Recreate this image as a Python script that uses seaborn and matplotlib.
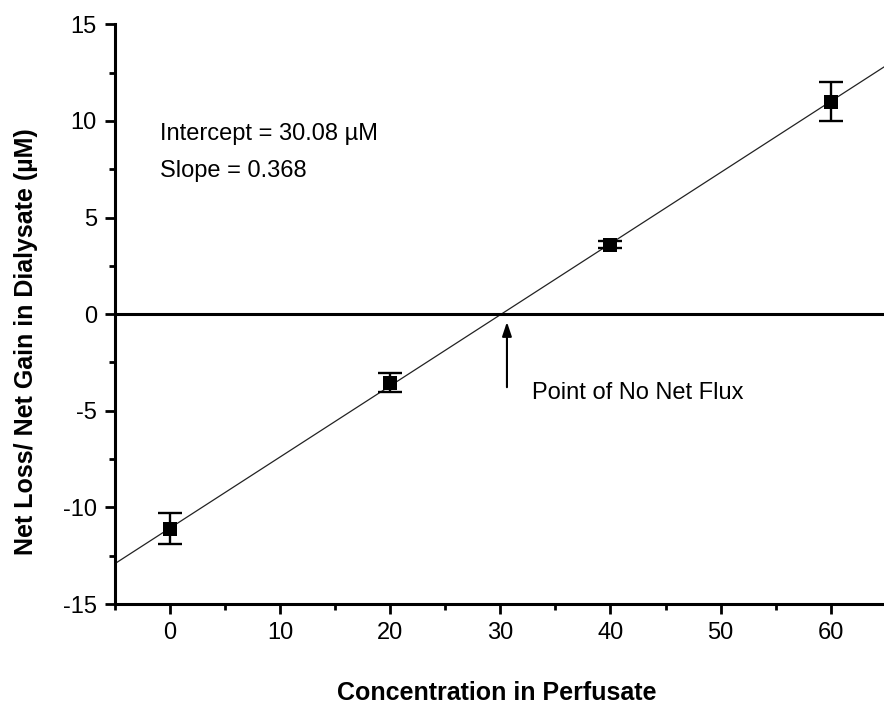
import numpy as np
import pandas as pd
import matplotlib
matplotlib.use("Agg")
import matplotlib.pyplot as plt
from matplotlib.ticker import MultipleLocator
import seaborn as sns

# Measured net change in dialysate for each perfusate concentration
concentration = [0, 20, 40, 60]
net_change = [-11.1, -3.55, 3.6, 11.0]
error = [0.8, 0.5, 0.2, 1.0]

# Linear regression result
slope = 0.368
x_intercept = 30.08

sns.set_theme(style="ticks")
plt.rcParams["font.family"] = ["Liberation Sans", "DejaVu Sans"]
plt.rcParams["axes.unicode_minus"] = False
plt.rcParams["text.color"] = "black"
plt.rcParams["axes.labelcolor"] = "black"

fig = plt.figure(figsize=(8.84, 7.14), dpi=100)
ax = fig.add_axes([0.130, 0.154, 0.872, 0.812])

df = pd.DataFrame({"conc": concentration, "change": net_change, "err": error})

# Fitted line across the whole x range
fit_x = np.array([-5, 65])
fit_df = pd.DataFrame({"x": fit_x, "y": slope * (fit_x - x_intercept)})
sns.lineplot(data=fit_df, x="x", y="y", ax=ax, color="#222222", lw=0.9, zorder=2)

# Zero reference line
ax.axhline(0, color="black", lw=2.2, zorder=2)

ax.errorbar(df["conc"], df["change"], yerr=df["err"], fmt="none",
            ecolor="black", elinewidth=1.7, capsize=8.5, capthick=1.7, zorder=3)
sns.scatterplot(data=df, x="conc", y="change", ax=ax, marker="s", s=110,
                color="black", edgecolor="black", linewidth=0, zorder=4)

ax.annotate("", xy=(30.6, -0.4), xytext=(30.6, -3.78),
            arrowprops=dict(arrowstyle="-|>,head_length=0.6,head_width=0.2",
                            color="black", lw=1.5, mutation_scale=14,
                            shrinkA=0, shrinkB=0))
ax.text(32.9, -4.1, "Point of No Net Flux", fontsize=17, va="center", ha="left")
ax.text(-0.9, 9.3, "Intercept = 30.08 \u00b5M", fontsize=17, va="center", ha="left")
ax.text(-0.9, 7.4, "Slope = 0.368", fontsize=17, va="center", ha="left")

ax.set_xlim(-5, 65)
ax.set_ylim(-15, 15)
ax.xaxis.set_major_locator(MultipleLocator(10))
ax.xaxis.set_minor_locator(MultipleLocator(5))
ax.yaxis.set_major_locator(MultipleLocator(5))
ax.yaxis.set_minor_locator(MultipleLocator(2.5))
ax.set_xticks(range(0, 61, 10))

for side in ("top", "right"):
    ax.spines[side].set_visible(False)
for side in ("left", "bottom"):
    ax.spines[side].set_linewidth(2.2)
    ax.spines[side].set_color("black")

ax.tick_params(which="major", direction="out", length=7, width=2, labelsize=17,
               colors="black", pad=6)
ax.tick_params(which="minor", direction="out", length=4, width=2, colors="black")

ax.set_xlabel("Concentration in Perfusate", fontsize=18, fontweight="bold")
ax.set_ylabel("Net Loss/ Net Gain in Dialysate (\u00b5M)", fontsize=18,
              fontweight="bold")
ax.xaxis.set_label_coords(0.495, -0.153)
ax.yaxis.set_label_coords(-0.116, 0.452)
ax.xaxis.label.set_va("center")
ax.yaxis.label.set_va("center")

fig.savefig("out.png", dpi=100)
